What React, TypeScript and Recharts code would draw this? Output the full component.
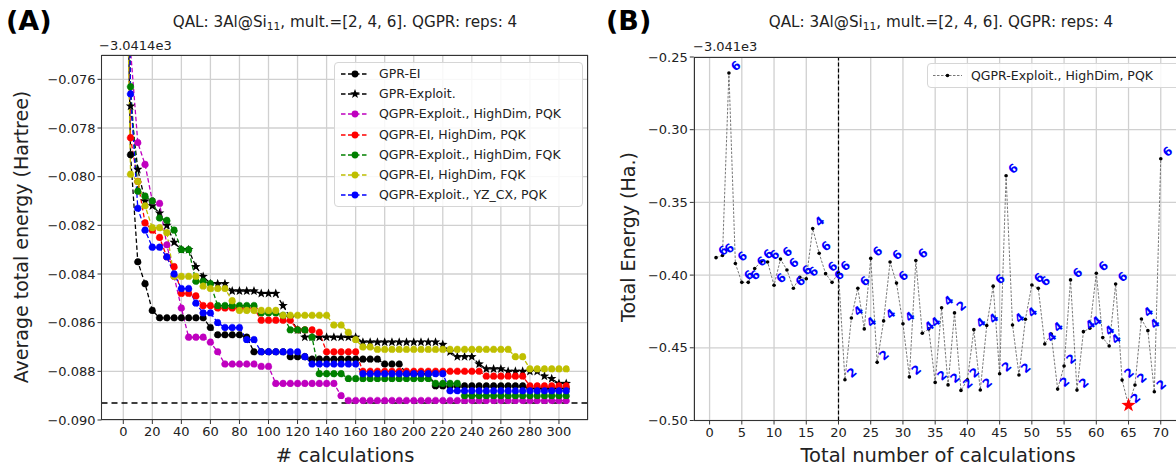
import React from "react";
import {
  LineChart,
  Line,
  XAxis,
  YAxis,
  CartesianGrid,
  ReferenceLine,
  ReferenceDot,
  LabelList,
} from "recharts";

// ---------- panel (A): best energy so far vs. number of calculations ----------
const calcSteps = [
  1, 5, 10, 15, 20, 25, 30, 35, 40, 45,
  50, 55, 60, 65, 70, 75, 80, 85, 90, 95,
  100, 105, 110, 115, 120, 125, 130, 135, 140, 145,
  150, 155, 160, 165, 170, 175, 180, 185, 190, 195,
  200, 205, 210, 215, 220, 225, 230, 235, 240, 245,
  250, 255, 260, 265, 270, 275, 280, 285, 290, 295,
  300, 305,
];

const gprEi = [
  -0.065, -0.0791, -0.0835, -0.0844, -0.0855, -0.0858, -0.0858, -0.0858, -0.0858, -0.0858,
  -0.0858, -0.0858, -0.0862, -0.0865, -0.0865, -0.0865, -0.0865, -0.0866, -0.0872, -0.0872,
  -0.0872, -0.0872, -0.0872, -0.0874, -0.0874, -0.0874, -0.0875, -0.0875, -0.0875, -0.0875,
  -0.0875, -0.0875, -0.0875, -0.0875, -0.0875, -0.0875, -0.0877, -0.0877, -0.0877, -0.0881,
  -0.0881, -0.0881, -0.0881, -0.0886, -0.0886, -0.0886, -0.0886, -0.0886, -0.0886, -0.0886,
  -0.0886, -0.0886, -0.0886, -0.0886, -0.0886, -0.0886, -0.0887, -0.0887, -0.0887, -0.0887,
  -0.0887, -0.0887,
];
const gprExploit = [
  -0.066, -0.0771, -0.0797, -0.081, -0.0812, -0.0815, -0.082, -0.0827, -0.083, -0.083,
  -0.0837, -0.0841, -0.0844, -0.0844, -0.0844, -0.0847, -0.0847, -0.0847, -0.0847, -0.0848,
  -0.0848, -0.0848, -0.0853, -0.0858, -0.0863, -0.0866, -0.0866, -0.0866, -0.0866, -0.0866,
  -0.0866, -0.0866, -0.0866, -0.0868, -0.0868, -0.0868, -0.0868, -0.0868, -0.0868, -0.0868,
  -0.0868, -0.0868, -0.0868, -0.0868, -0.0869, -0.0872, -0.0874, -0.0874, -0.0874, -0.0877,
  -0.0879, -0.0879, -0.0879, -0.088, -0.088, -0.088, -0.088, -0.088, -0.0882, -0.0883,
  -0.0885, -0.0885,
];
const qgprExpHdPqk = [
  -0.06, -0.0748, -0.0786, -0.0795, -0.081, -0.0811, -0.0828, -0.0841, -0.0854, -0.0866,
  -0.0866, -0.0866, -0.0868, -0.0872, -0.0877, -0.0877, -0.0877, -0.0877, -0.0877, -0.0878,
  -0.0878, -0.0885, -0.0885, -0.0885, -0.0885, -0.0885, -0.0885, -0.0885, -0.0885, -0.0885,
  -0.089, -0.0892, -0.0892, -0.0892, -0.0892, -0.0892, -0.0892, -0.0892, -0.0892, -0.0892,
  -0.0892, -0.0892, -0.0892, -0.0892, -0.0892, -0.0892, -0.0892, -0.0892, -0.0892, -0.0892,
  -0.0892, -0.0892, -0.0892, -0.0892, -0.0892, -0.0892, -0.0892, -0.0892, -0.0892, -0.0892,
  -0.0892, -0.0892,
];
const qgprEiHdPqk = [
  -0.066, -0.0784, -0.0802, -0.0819, -0.0822, -0.0825, -0.0833, -0.0837, -0.0848, -0.0848,
  -0.0849, -0.0853, -0.0853, -0.0854, -0.0854, -0.0854, -0.0854, -0.0854, -0.0854, -0.0859,
  -0.0859, -0.0859, -0.0859, -0.0859, -0.0863, -0.0863, -0.0863, -0.0864, -0.0872, -0.0872,
  -0.0872, -0.0872, -0.0872, -0.088, -0.088, -0.088, -0.088, -0.088, -0.088, -0.088,
  -0.088, -0.088, -0.088, -0.088, -0.088, -0.088, -0.088, -0.088, -0.088, -0.088,
  -0.0882, -0.0882, -0.0882, -0.0882, -0.0882, -0.0882, -0.0886, -0.0886, -0.0886, -0.0886,
  -0.0886, -0.0886,
];
const qgprExpHdFqk = [
  -0.064, -0.0763, -0.0806, -0.0808, -0.081, -0.0817, -0.0818, -0.0822, -0.083, -0.083,
  -0.0843, -0.0843, -0.0844, -0.0853, -0.0853, -0.0853, -0.0853, -0.0853, -0.0853, -0.0856,
  -0.0856, -0.0856, -0.0857, -0.0863, -0.0863, -0.0863, -0.0866, -0.0881, -0.0881, -0.0881,
  -0.0881, -0.0883, -0.0883, -0.0883, -0.0883, -0.0883, -0.0883, -0.0883, -0.0883, -0.0883,
  -0.0883, -0.0883, -0.0883, -0.0885, -0.0885, -0.0885, -0.0885, -0.089, -0.089, -0.089,
  -0.089, -0.089, -0.089, -0.089, -0.089, -0.089, -0.089, -0.089, -0.089, -0.089,
  -0.089, -0.089,
];
const qgprEiHdFqk = [
  -0.066, -0.0799, -0.0802, -0.0812, -0.0821, -0.0821, -0.0823, -0.0841, -0.0841, -0.0841,
  -0.0841, -0.0845, -0.0846, -0.0846, -0.0846, -0.0851, -0.0855, -0.0855, -0.0855, -0.0855,
  -0.0855, -0.0855, -0.0857, -0.0857, -0.0857, -0.0857, -0.0857, -0.0857, -0.0857, -0.0861,
  -0.0861, -0.0864, -0.0867, -0.087, -0.087, -0.0871, -0.0871, -0.0871, -0.0871, -0.0871,
  -0.0871, -0.0871, -0.0871, -0.0871, -0.0871, -0.0871, -0.0871, -0.0871, -0.0871, -0.0871,
  -0.0871, -0.0871, -0.0871, -0.0871, -0.0874, -0.0874, -0.0879, -0.0879, -0.0879, -0.0879,
  -0.0879, -0.0879,
];
const qgprExpYzPqk = [
  -0.062, -0.0766, -0.0813, -0.0822, -0.0829, -0.0829, -0.0833, -0.084, -0.0846, -0.0846,
  -0.0852, -0.0856, -0.0856, -0.086, -0.0862, -0.0862, -0.0862, -0.0867, -0.0867, -0.0872,
  -0.0872, -0.0872, -0.0872, -0.0872, -0.0872, -0.0874, -0.0877, -0.0877, -0.0877, -0.0877,
  -0.0877, -0.0877, -0.0877, -0.0881, -0.0881, -0.0881, -0.0881, -0.0881, -0.0881, -0.0881,
  -0.0881, -0.0881, -0.0881, -0.0881, -0.0881, -0.0888, -0.0888, -0.0888, -0.0888, -0.0888,
  -0.0888, -0.0888, -0.0888, -0.0888, -0.0888, -0.0888, -0.0888, -0.0888, -0.0888, -0.0888,
  -0.0888, -0.0888,
];

const seriesA = [gprEi, gprExploit, qgprExpHdPqk, qgprEiHdPqk, qgprExpHdFqk, qgprEiHdFqk, qgprExpYzPqk];
const namesA = [
  "GPR-EI",
  "GPR-Exploit.",
  "QGPR-Exploit., HighDim, PQK",
  "QGPR-EI, HighDim, PQK",
  "QGPR-Exploit., HighDim, FQK",
  "QGPR-EI, HighDim, FQK",
  "QGPR-Exploit., YZ_CX, PQK",
];
const colorsA = ["#000000", "#000000", "#bf00bf", "#ff0000", "#008000", "#bfbf00", "#0000ff"];
const refEnergyA = -0.0893;
const xTicksA = [0, 20, 40, 60, 80, 100, 120, 140, 160, 180, 200, 220, 240, 260, 280, 300];
const yTicksA = [-0.09, -0.088, -0.086, -0.084, -0.082, -0.08, -0.078, -0.076];

// ---------- panel (B): every single calculation ----------
const calcIndex = [
  1, 2, 3, 4, 5, 6, 7, 8, 9, 10, 11, 12, 13, 14, 15, 16, 17, 18, 19, 20,
  21, 22, 23, 24, 25, 26, 27, 28, 29, 30, 31, 32, 33, 34, 35, 36, 37, 38, 39, 40,
  41, 42, 43, 44, 45, 46, 47, 48, 49, 50, 51, 52, 53, 54, 55, 56, 57, 58, 59, 60,
  61, 62, 63, 64, 65, 66, 67, 68, 69, 70,
];
const energyB = [
  -0.388, -0.3865, -0.261, -0.392, -0.405, -0.405, -0.3955, -0.3905, -0.391, -0.407,
  -0.389, -0.3965, -0.409, -0.4015, -0.4025, -0.368, -0.385, -0.399, -0.405, -0.3985,
  -0.472, -0.4295, -0.409, -0.437, -0.3885, -0.46, -0.4315, -0.391, -0.4055, -0.4335,
  -0.47, -0.39, -0.44, -0.437, -0.4738, -0.4225, -0.4755, -0.426, -0.4793, -0.472,
  -0.4375, -0.479, -0.4347, -0.4076, -0.4678, -0.3317, -0.4343, -0.4687, -0.4304, -0.4068,
  -0.4091, -0.4474, -0.4405, -0.4784, -0.4625, -0.4033, -0.4791, -0.4389, -0.4366, -0.3987,
  -0.443, -0.4488, -0.4061, -0.4722, -0.4895, -0.4756, -0.4302, -0.4382, -0.4802, -0.32,
];
const multB = [
  6, 6, 6, 6, 6, 6, 6, 6, 6, 6,
  6, 6, 6, 6, 6, 4, 6, 6, 6, 6,
  2, 4, 6, 4, 6, 2, 4, 6, 6, 4,
  2, 6, 4, 4, 2, 4, 2, 2, 2, 2,
  4, 2, 4, 6, 2, 6, 4, 2, 4, 6,
  6, 4, 4, 2, 2, 6, 2, 4, 4, 6,
  4, 4, 6, 2, 2, 2, 4, 4, 2, 6,
];
const splitCalc = 20;
const xTicksB = [0, 5, 10, 15, 20, 25, 30, 35, 40, 45, 50, 55, 60, 65, 70];
const yTicksB = [-0.5, -0.45, -0.4, -0.35, -0.3, -0.25];

const FONT = "'DejaVu Sans', sans-serif";
const TXT = "#222";

const dataA = calcSteps.map((x, i) => {
  const row: any = { x };
  seriesA.forEach((s, k) => (row["s" + k] = s[i]));
  return row;
});
const dataB = calcIndex.map((x, i) => ({ x, e: energyB[i], m: multB[i] }));
const bestIdx = energyB.indexOf(Math.min(...energyB));

const minus = (s: string) => s.replace("-", "\u2212");

function starPath(cx: number, cy: number, ro: number, ri: number) {
  let d = "";
  for (let i = 0; i < 10; i++) {
    const r = i % 2 ? ri : ro;
    const a = -Math.PI / 2 + (i * Math.PI) / 5;
    d += (i ? "L" : "M") + (cx + r * Math.cos(a)).toFixed(2) + "," + (cy + r * Math.sin(a)).toFixed(2);
  }
  return d + "Z";
}

const StarDot = (p: any) => {
  if (p.cx == null || p.cy == null) return <g key={"st" + p.index} />;
  return <path key={"st" + p.index} d={starPath(p.cx, p.cy, 5, 2.1)} fill="#000" />;
};

const MultLabel = (p: any) => {
  const x = p.x + 7;
  const y = p.y - 7;
  return (
    <text
      x={x}
      y={y}
      transform={`rotate(-40 ${x} ${y})`}
      textAnchor="middle"
      dominantBaseline="central"
      fill="#0000ff"
      fontWeight="bold"
      fontSize={12}
      fontFamily={FONT}
    >
      {p.value}
    </text>
  );
};

const abs = (style: any) => ({ position: "absolute" as const, ...style });
const centered = (left: number, top: number, extra: any = {}) =>
  abs({ left, top, transform: "translate(-50%,-50%)", whiteSpace: "nowrap", ...extra });

const Title = ({ cx }: { cx: number }) => (
  <div style={centered(cx, 23, { fontSize: 15.2, color: TXT })}>
    QAL: 3Al@Si<span style={{ fontSize: "0.7em", verticalAlign: "-0.3em" }}>11</span>, mult.=[2, 4, 6]. QGPR: reps: 4
  </div>
);

const tickStyle = { fill: TXT, fontSize: 13, fontFamily: FONT };

export default function App() {
  return (
    <div
      style={{
        position: "fixed",
        left: 0,
        top: 0,
        width: 1176,
        height: 468,
        overflow: "hidden",
        background: "#fff",
        fontFamily: FONT,
      }}
    >
      {/* ---------------- (A) ---------------- */}
      <div style={abs({ left: 0, top: 0, width: 600, height: 468 })}>
        <LineChart width={600} height={468} data={dataA} margin={{ top: 55, right: 12, left: 41.5, bottom: 18 }}>
          <CartesianGrid stroke="#d0d0d0" strokeWidth={1.3} />
          <XAxis
            type="number"
            dataKey="x"
            domain={[-15, 320]}
            ticks={xTicksA}
            interval={0}
            allowDataOverflow
            axisLine={false}
            tickSize={4}
            tickMargin={3}
            tickLine={{ stroke: "#333" }}
            tick={tickStyle}
            height={30}
          />
          <YAxis
            type="number"
            domain={[-0.09, -0.075]}
            ticks={yTicksA}
            interval={0}
            allowDataOverflow
            axisLine={false}
            width={60}
            tickSize={4}
            tickMargin={2}
            tickLine={{ stroke: "#333" }}
            tick={tickStyle}
            tickFormatter={(v: number) => minus(v.toFixed(3))}
          />
          <ReferenceLine y={refEnergyA} stroke="#000" strokeWidth={1.5} strokeDasharray="6 4" />
          {seriesA.map((_, k) => (
            <Line
              key={k}
              dataKey={"s" + k}
              stroke={colorsA[k]}
              strokeWidth={1.3}
              strokeDasharray="4.5 2.5"
              dot={k === 1 ? StarDot : { r: 3.4, fill: colorsA[k], stroke: colorsA[k], strokeWidth: 0.5 }}
              activeDot={false}
              isAnimationActive={false}
            />
          ))}
        </LineChart>
        <div style={abs({ left: 101, top: 55, width: 487, height: 365, border: "1.2px solid #333", boxSizing: "border-box" })} />
        <div style={abs({ left: 99, top: 38, fontSize: 13, color: TXT })}>{"\u22123.0414e3"}</div>
        <div style={abs({ left: 6, top: 5, fontSize: 27, fontWeight: "bold", color: "#000" })}>(A)</div>
        <Title cx={345} />
        <div style={centered(345, 455, { fontSize: 19.5, color: TXT })}># calculations</div>
        <div style={centered(21, 237, { fontSize: 19, color: TXT, transform: "translate(-50%,-50%) rotate(-90deg)" })}>
          Average total energy (Hartree)
        </div>
        {/* legend */}
        <div
          style={abs({
            left: 334,
            top: 62,
            width: 249,
            height: 145,
            border: "1px solid #d6d6d6",
            borderRadius: 4,
            background: "rgba(255,255,255,0.85)",
            boxSizing: "border-box",
          })}
        >
          {namesA.map((n, k) => (
            <div key={k} style={abs({ left: 0, top: 1 + k * 20.2, height: 20, width: 248 })}>
              <svg width={30} height={20} style={abs({ left: 5, top: 0 })}>
                <line x1={1} y1={10} x2={29} y2={10} stroke={colorsA[k]} strokeWidth={1.3} strokeDasharray="4.5 2.5" />
                {k === 1 ? (
                  <path d={starPath(15, 10, 5, 2.1)} fill="#000" />
                ) : (
                  <circle cx={15} cy={10} r={3.4} fill={colorsA[k]} />
                )}
              </svg>
              <div style={abs({ left: 44, top: 0, lineHeight: "20px", fontSize: 12.5, color: TXT, whiteSpace: "nowrap" })}>{n}</div>
            </div>
          ))}
        </div>
      </div>

      {/* ---------------- (B) ---------------- */}
      <div style={abs({ left: 600, top: 0, width: 600, height: 468 })}>
        <LineChart width={600} height={468} data={dataB} margin={{ top: 57, right: 17, left: 33.8, bottom: 17.5 }}>
          <CartesianGrid stroke="#d0d0d0" strokeWidth={1.3} />
          <XAxis
            type="number"
            dataKey="x"
            domain={[-2.45, 73.45]}
            ticks={xTicksB}
            interval={0}
            allowDataOverflow
            axisLine={false}
            tickSize={4}
            tickMargin={3}
            tickLine={{ stroke: "#333" }}
            tick={tickStyle}
            height={30}
          />
          <YAxis
            type="number"
            domain={[-0.5, -0.25]}
            ticks={yTicksB}
            interval={0}
            allowDataOverflow
            axisLine={false}
            width={60}
            tickSize={4}
            tickMargin={2}
            tickLine={{ stroke: "#333" }}
            tick={tickStyle}
            tickFormatter={(v: number) => minus(v.toFixed(2))}
          />
          <ReferenceLine x={splitCalc} stroke="#000" strokeWidth={1.2} strokeDasharray="4 2" />
          <Line
            dataKey="e"
            stroke="#555"
            strokeWidth={0.8}
            strokeDasharray="2.5 1.5"
            dot={{ r: 1.8, fill: "#000", stroke: "#000", strokeWidth: 0 }}
            activeDot={false}
            isAnimationActive={false}
          >
            <LabelList dataKey="m" content={MultLabel} />
          </Line>
          <ReferenceDot
            x={calcIndex[bestIdx]}
            y={energyB[bestIdx]}
            r={7}
            shape={(p: any) => <path d={starPath(p.cx, p.cy, 7.5, 3)} fill="#ff0000" />}
          />
        </LineChart>
        <div style={abs({ left: 94, top: 57, width: 600, height: 364, border: "1.2px solid #333", boxSizing: "border-box" })} />
        <div style={abs({ left: 93, top: 39, fontSize: 13, color: TXT })}>{"\u22123.041e3"}</div>
        <div style={abs({ left: 6, top: 5, fontSize: 27, fontWeight: "bold", color: "#000" })}>(B)</div>
        <Title cx={341} />
        <div style={centered(338, 455, { fontSize: 19.5, color: TXT })}>Total number of calculations</div>
        <div style={centered(28, 237, { fontSize: 19, color: TXT, transform: "translate(-50%,-50%) rotate(-90deg)" })}>
          Total Energy (Ha.)
        </div>
        <div
          style={abs({
            left: 327,
            top: 63,
            width: 260,
            height: 25,
            border: "1px solid #d6d6d6",
            borderRadius: 4,
            background: "rgba(255,255,255,0.85)",
            boxSizing: "border-box",
          })}
        >
          <svg width={32} height={23} style={abs({ left: 4, top: 0 })}>
            <line x1={1} y1={11.5} x2={30} y2={11.5} stroke="#555" strokeWidth={0.8} strokeDasharray="2.5 1.5" />
            <circle cx={15.5} cy={11.5} r={1.8} fill="#000" />
          </svg>
          <div style={abs({ left: 43, top: 0, lineHeight: "23px", fontSize: 12.5, color: TXT, whiteSpace: "nowrap" })}>
            QGPR-Exploit., HighDim, PQK
          </div>
        </div>
      </div>
    </div>
  );
}
